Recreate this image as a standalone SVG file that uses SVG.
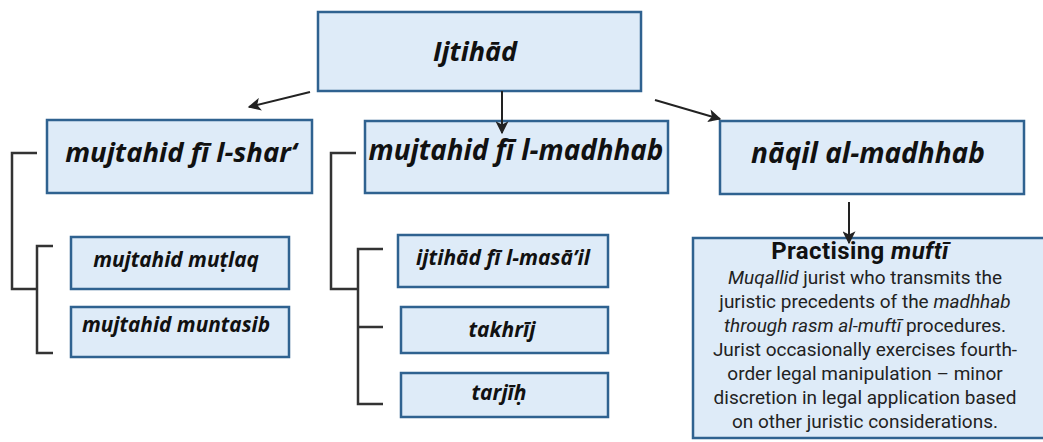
<svg xmlns="http://www.w3.org/2000/svg" width="1043" height="442" viewBox="0 0 1043 442">
<defs>
<marker id="ah" viewBox="0 0 10 10" refX="9" refY="5" markerWidth="7" markerHeight="6.5" markerUnits="strokeWidth" orient="auto">
<path d="M0,0 L10,5 L0,10 L2.5,5 z" fill="#222"/>
</marker>
<style>
.box{fill:#deebf8;stroke:#2f6290;stroke-width:2.5}
.h{font-family:"Open Sans","DejaVu Sans",sans-serif;font-weight:bold;font-style:italic;fill:#111;text-anchor:middle}
.b{font-family:Roboto,"Liberation Sans",sans-serif;font-size:19px;fill:#222;text-anchor:middle}
.bt{font-family:Roboto,"Liberation Sans",sans-serif;font-size:24px;font-weight:bold;letter-spacing:0.4px;fill:#111;text-anchor:middle}
.con{fill:none;stroke:#222;stroke-width:2}
.br{fill:none;stroke:#333;stroke-width:2.5}
</style>
</defs>
<rect width="1043" height="442" fill="#fff"/>
<g id="n-ijtihad">
<rect class="box" x="318" y="12" width="323" height="79"/>
<text class="h" x="475" y="61" font-size="27">Ijtihād</text>
</g>
<g id="n-shar">
<rect class="box" x="47" y="120" width="265" height="73"/>
<text class="h" x="181" y="162" font-size="27.5">mujtahid fī l-shar‘</text>
</g>
<g id="n-madhhab">
<rect class="box" x="365" y="121" width="303" height="72"/>
<text class="h" x="516" y="160" font-size="27.8">mujtahid fī l-madhhab</text>
</g>
<g id="n-naqil">
<rect class="box" x="720" y="121" width="304" height="73"/>
<text class="h" x="868" y="163" font-size="28">nāqil al-madhhab</text>
</g>
<g id="n-mutlaq">
<rect class="box" x="71" y="237" width="218" height="52"/>
<text class="h" x="176" y="267" font-size="20.8">mujtahid muṭlaq</text>
</g>
<g id="n-muntasib">
<rect class="box" x="71" y="307" width="218" height="50"/>
<text class="h" x="176" y="332" font-size="20.8">mujtahid muntasib</text>
</g>
<g id="n-masail">
<rect class="box" x="398" y="235" width="210" height="52"/>
<text class="h" x="503" y="265" font-size="21">ijtihād fī l-masā’il</text>
</g>
<g id="n-takhrij">
<rect class="box" x="401" y="307" width="207" height="46"/>
<text class="h" x="502" y="337" font-size="21">takhrīj</text>
</g>
<g id="n-tarjih">
<rect class="box" x="401" y="373" width="207" height="44"/>
<text class="h" x="499" y="400" font-size="21">tarjīḥ</text>
</g>
<g id="n-practising">
<rect class="box" x="693" y="238" width="360" height="200"/>
<text class="bt" x="860" y="259">Practising <tspan font-style="italic">muftī</tspan></text>
<text class="b" x="865" y="284"><tspan font-style="italic">Muqallid</tspan> jurist who transmits the</text>
<text class="b" x="865" y="308">juristic precedents of the <tspan font-style="italic">madhhab</tspan></text>
<text class="b" x="865" y="332"><tspan font-style="italic">through rasm al-muftī</tspan> procedures.</text>
<text class="b" x="865" y="356">Jurist occasionally exercises fourth-</text>
<text class="b" x="865" y="380">order legal manipulation – minor</text>
<text class="b" x="865" y="404">discretion in legal application based</text>
<text class="b" x="865" y="428">on other juristic considerations.</text>
</g>
<g id="connectors">
<line class="con" x1="310" y1="92" x2="249" y2="107" marker-end="url(#ah)"/>
<line class="con" x1="502" y1="91" x2="502" y2="133" marker-end="url(#ah)"/>
<line class="con" x1="655" y1="100" x2="720" y2="119" marker-end="url(#ah)"/>
<line class="con" x1="849" y1="202" x2="849" y2="243" marker-end="url(#ah)"/>
<path class="br" d="M37,153 H12 V289 H37"/>
<path class="br" d="M53,246 H37 V353 H53"/>
<path class="br" d="M356,153 H331 V289 H358"/>
<path class="br" d="M383,249 H358 V404 H383 M358,327 H383"/>
</g>
</svg>
